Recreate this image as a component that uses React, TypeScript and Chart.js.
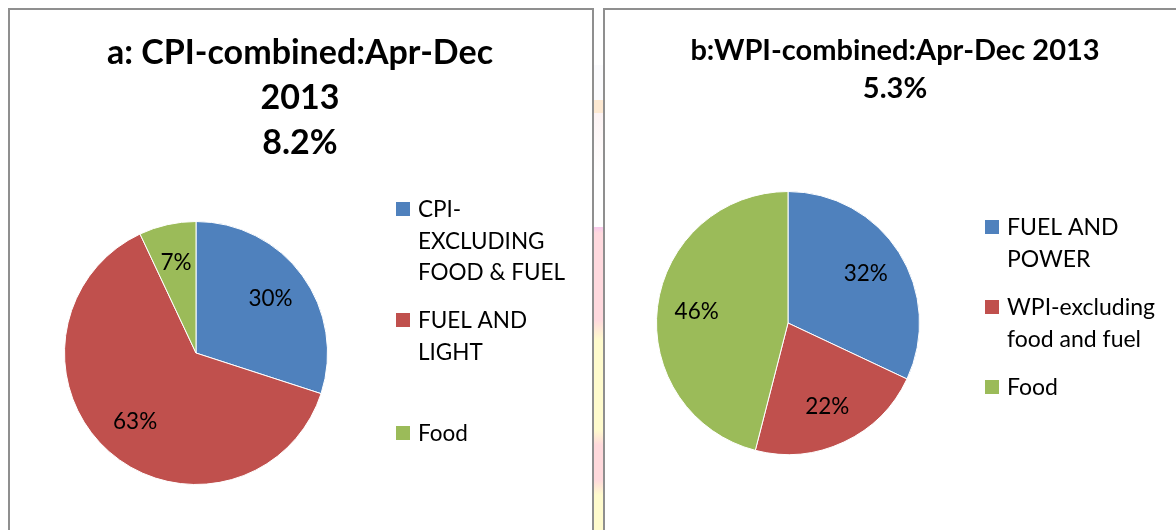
import React, { useEffect, useRef } from "react";
import { Chart, registerables } from "chart.js";

Chart.register(...registerables);

// ---- Data ----
const cpiTitle = ["a: CPI-combined:Apr-Dec", "2013", "8.2%"];
const cpiLabels = [["CPI-", "EXCLUDING", "FOOD & FUEL"], ["FUEL AND", "LIGHT"], ["Food"]];
const cpiValues = [30, 63, 7];

const wpiTitle = ["b:WPI-combined:Apr-Dec 2013", "5.3%"];
const wpiLabels = [["FUEL AND", "POWER"], ["WPI-excluding", "food and fuel"], ["Food"]];
const wpiValues = [32, 22, 46];

const sliceColors = ["#4F81BD", "#C0504D", "#9BBB59"];

const FONT = "Lato, 'Noto Sans', sans-serif";

type Layout = {
  width: number;
  height: number;
  title: string[];
  titleX: number;
  titleBaselines: number[];
  titleSize: number;
  legendSquareX: number;
  legendTextX: number;
  legendBaselines: number[];
  legendLineHeight: number;
  legendSize: number;
  labelSize: number;
  padding: { left: number; top: number; right: number; bottom: number };
};

const overlayPlugin = (lay: Layout) => ({
  id: "overlay",
  afterDraw(chart: any) {
    const ctx = chart.ctx;
    ctx.save();
    // title
    ctx.fillStyle = "#000";
    ctx.textAlign = "center";
    ctx.textBaseline = "alphabetic";
    ctx.font = `bold ${lay.titleSize}px ${FONT}`;
    lay.title.forEach((t, i) => ctx.fillText(t, lay.titleX, lay.titleBaselines[i]));

    // legend
    const labels = chart.data.labels as string[][];
    const colors = chart.data.datasets[0].backgroundColor as string[];
    ctx.textAlign = "left";
    ctx.font = `${lay.legendSize}px ${FONT}`;
    labels.forEach((lines, i) => {
      const b = lay.legendBaselines[i];
      ctx.fillStyle = colors[i];
      ctx.fillRect(lay.legendSquareX, b - 15, 14, 14);
      ctx.fillStyle = "#000";
      lines.forEach((ln, j) => ctx.fillText(ln, lay.legendTextX, b + j * lay.legendLineHeight));
    });

    // data labels
    const meta = chart.getDatasetMeta(0);
    const values = chart.data.datasets[0].data as number[];
    ctx.textAlign = "center";
    ctx.textBaseline = "middle";
    ctx.font = `${lay.labelSize}px ${FONT}`;
    meta.data.forEach((arc: any, i: number) => {
      const { x, y, startAngle, endAngle, outerRadius } = arc.getProps(
        ["x", "y", "startAngle", "endAngle", "outerRadius"],
        true
      );
      const mid = (startAngle + endAngle) / 2;
      const r = outerRadius * 0.7;
      ctx.fillText(`${values[i]}%`, x + Math.cos(mid) * r, y + Math.sin(mid) * r);
    });
    ctx.restore();
  },
});

function PieCanvas({ labels, values, lay }: { labels: string[][]; values: number[]; lay: Layout }) {
  const ref = useRef<HTMLCanvasElement | null>(null);
  useEffect(() => {
    if (!ref.current) return;
    const chart = new Chart(ref.current, {
      type: "pie",
      data: {
        labels: labels as any,
        datasets: [
          {
            data: values,
            backgroundColor: sliceColors,
            borderColor: "#ffffff",
            borderWidth: 1,
          },
        ],
      },
      options: {
        responsive: false,
        maintainAspectRatio: false,
        animation: false,
        layout: { padding: lay.padding },
        plugins: {
          legend: { display: false },
          title: { display: false },
          tooltip: { enabled: false },
        },
      },
      plugins: [overlayPlugin(lay)],
    });
    return () => chart.destroy();
  }, []);
  return (
    <canvas
      ref={ref}
      width={lay.width}
      height={lay.height}
      style={{ width: lay.width, height: lay.height, display: "block" }}
    />
  );
}

const leftLayout: Layout = {
  width: 582,
  height: 520,
  title: cpiTitle,
  titleX: 290,
  titleBaselines: [54, 99, 144],
  titleSize: 34,
  legendSquareX: 386,
  legendTextX: 408,
  legendBaselines: [207, 318, 431],
  legendLineHeight: 31.5,
  legendSize: 22.5,
  labelSize: 22.5,
  padding: { left: 54, top: 211, right: 264, bottom: 45 },
};

const rightLayout: Layout = {
  width: 571,
  height: 520,
  title: wpiTitle,
  titleX: 290,
  titleBaselines: [50, 88],
  titleSize: 29,
  legendSquareX: 380,
  legendTextX: 402,
  legendBaselines: [225, 305, 385],
  legendLineHeight: 32,
  legendSize: 23,
  labelSize: 22.5,
  padding: { left: 51, top: 181, right: 256, bottom: 75 },
};

export default function App() {
  return (
    <div
      style={{
        position: "fixed",
        left: 0,
        top: 0,
        width: 1176,
        height: 530,
        overflow: "hidden",
        background: "#fff",
      }}
    >
      <div
        style={{
          position: "absolute",
          left: 594,
          top: 65,
          width: 9,
          height: 465,
          background:
            "linear-gradient(to bottom, #fbfbfd 0px, #fbfbfd 35px, #fde9d2 35px, #fde9d2 48px, #fdf3f3 48px, #ffffff 110px, #ffffff 162px, #f7c8ec 162px, #ffd9de 168px, #ffd9de 255px, #fffbcd 275px, #fffbcd 365px, #ffd9dc 380px, #ffd9dc 415px, #fffbcd 430px, #fffbcd 465px)",
        }}
      />
      <div
        style={{
          position: "absolute",
          left: 8,
          top: 8,
          width: 586,
          height: 522,
          boxSizing: "border-box",
          border: "2px solid #8f8f8f",
          borderBottom: "none",
          background: "#fff",
        }}
      >
        <PieCanvas labels={cpiLabels} values={cpiValues} lay={leftLayout} />
      </div>
      <div
        style={{
          position: "absolute",
          left: 603,
          top: 8,
          width: 573,
          height: 522,
          boxSizing: "border-box",
          border: "2px solid #8f8f8f",
          borderBottom: "none",
          borderRight: "none",
          background: "#fff",
        }}
      >
        <PieCanvas labels={wpiLabels} values={wpiValues} lay={rightLayout} />
      </div>
    </div>
  );
}
